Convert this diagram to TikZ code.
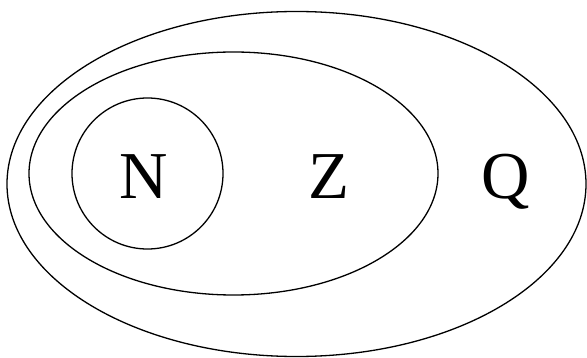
\documentclass[tikz,border=0pt]{standalone}
\usepackage{fontspec}
\setmainfont{Liberation Serif}
\begin{document}
\begin{tikzpicture}[x=1pt,y=-1pt,
  setline/.style={draw=black,line width=1.3pt},
  setlabel/.style={inner sep=0pt,anchor=base,font=\fontsize{67}{67}\selectfont}]
\useasboundingbox (0,0) rectangle (587,358);
\draw[setline] (296.5,184) ellipse [x radius=289.5, y radius=172.5];
\draw[setline] (233.5,173.5) ellipse [x radius=204.5, y radius=121.5];
\draw[setline] (147.5,173.5) circle [radius=75.5];
\node[setlabel] (N) at (143.5,199) {N};
\node[setlabel] (Z) at (329,199) {Z};
\node[setlabel] (Q) at (506,199) {Q};
\end{tikzpicture}
\end{document}
